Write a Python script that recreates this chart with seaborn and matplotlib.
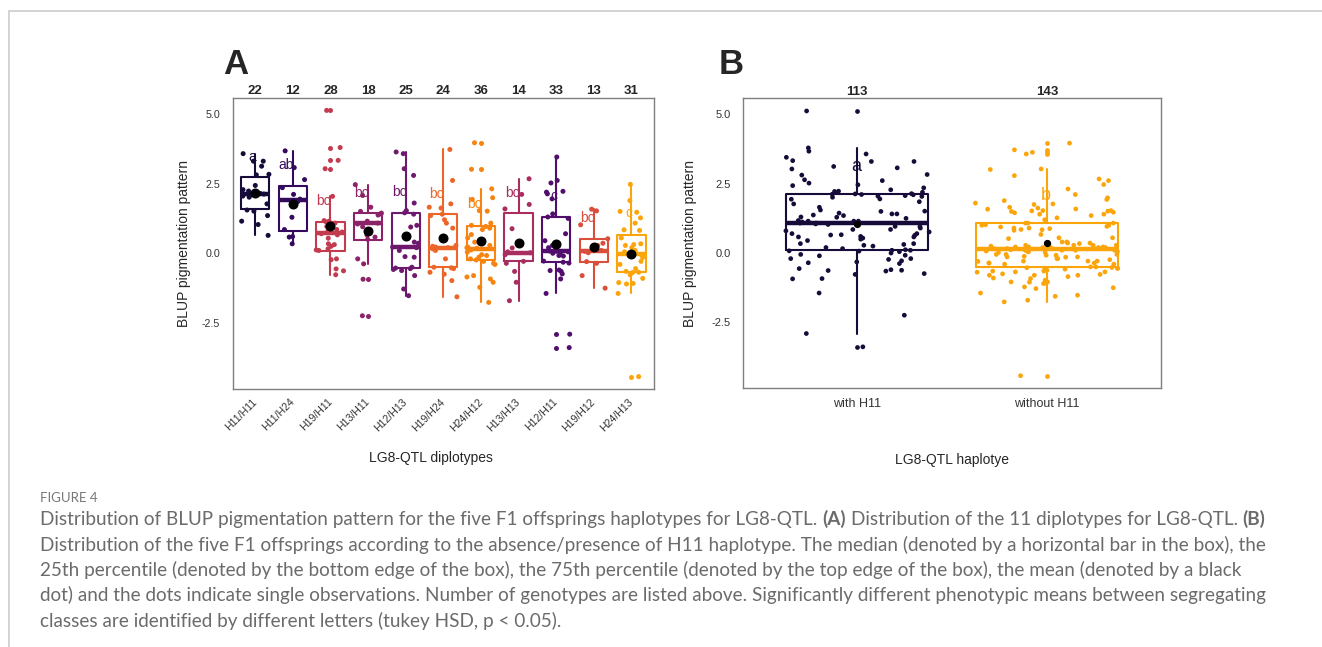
import matplotlib
matplotlib.use("Agg")
import matplotlib.pyplot as plt
from matplotlib.lines import Line2D
import numpy as np
import pandas as pd
import seaborn as sns

# BLUP pigmentation values per LG8-QTL diplotype
h11_h11 = [3.57, 3.30, 3.30, 3.12, 2.83, 2.81, 2.43, 2.28, 2.23, 2.19, 2.14,
           2.12, 2.10, 2.05, 2.01, 1.77, 1.55, 1.51, 1.35, 1.15, 1.03, 0.64]
h11_h24 = [3.67, 3.07, 2.64, 2.35, 2.11, 1.94, 1.85, 1.29, 0.85, 0.60, 0.58, 0.34]
h19_h11 = [5.12, 3.79, 3.33, 3.03, 2.04, 1.17, 1.15, 1.12, 1.08, 0.96, 0.90,
           0.85, 0.80, 0.76, 0.70, 0.66, 0.54, 0.34, 0.31, 0.25, 0.16, 0.12,
           0.10, -0.20, -0.23, -0.56, -0.63, -0.77]
h13_h11 = [2.46, 2.07, 1.65, 1.50, 1.44, 1.41, 1.37, 1.15, 1.08, 1.05, 0.95,
           0.65, 0.58, 0.50, -0.20, -0.38, -0.93, -2.24]
h12_h13 = [3.63, 3.57, 3.03, 2.79, 1.80, 1.53, 1.45, 1.40, 1.00, 0.94, 0.40,
           0.36, 0.22, 0.20, 0.10, -0.12, -0.14, -0.50, -0.53, -0.55, -0.58,
           -0.62, -0.80, -1.28, -1.52]
h19_h24 = [3.72, 2.61, 1.77, 1.65, 1.62, 1.40, 1.35, 1.20, 1.08, 0.90, 0.28,
           0.25, 0.22, 0.20, 0.16, 0.10, -0.20, -0.50, -0.52, -0.55, -0.68,
           -0.75, -0.98, -1.56]
h24_h12 = [3.96, 3.01, 2.31, 1.99, 1.93, 1.53, 1.51, 1.08, 1.00, 0.96, 0.90,
           0.85, 0.67, 0.55, 0.40, 0.28, 0.22, 0.20, 0.18, 0.15, 0.12, 0.04,
           -0.05, -0.08, -0.14, -0.20, -0.24, -0.29, -0.36, -0.40, -0.80,
           -0.85, -0.92, -1.04, -1.22, -1.76]
h13_h13 = [2.67, 2.11, 1.75, 1.59, 0.88, 0.19, 0.05, 0.02, -0.05, -0.29, -0.36,
           -0.65, -1.04, -1.70]
h12_h11 = [3.45, 2.61, 2.52, 2.22, 2.19, 2.13, 1.95, 1.41, 1.30, 1.25, 0.70,
           0.45, 0.28, 0.20, 0.10, 0.08, 0.07, 0.05, 0.00, -0.05, -0.08, -0.10,
           -0.28, -0.32, -0.35, -0.60, -0.62, -0.65, -0.74, -0.92, -1.44,
           -2.90, -3.38]
h19_h12 = [1.58, 1.52, 1.02, 0.52, 0.36, 0.28, 0.10, 0.07, 0.02, -0.30, -0.36,
           -0.80, -1.25]
h24_h13 = [2.47, 1.89, 1.50, 1.47, 1.27, 1.08, 0.84, 0.82, 0.55, 0.34, 0.31,
           0.28, 0.20, 0.10, 0.05, -0.05, -0.08, -0.15, -0.29, -0.40, -0.55,
           -0.65, -0.68, -0.69, -0.77, -0.90, -1.05, -1.08, -1.10, -1.44, -4.42]

diplotypes = ["H11/H11", "H11/H24", "H19/H11", "H13/H11", "H12/H13", "H19/H24",
              "H24/H12", "H13/H13", "H12/H11", "H19/H12", "H24/H13"]
values = [h11_h11, h11_h24, h19_h11, h13_h11, h12_h13, h19_h24,
          h24_h12, h13_h13, h12_h11, h19_h12, h24_h13]

# box statistics, panel A
q1_a = [1.58, 0.80, 0.09, 0.49, -0.52, -0.51, -0.23, -0.29, -0.33, -0.33, -0.66]
med_a = [2.14, 1.90, 0.72, 1.08, 0.22, 0.20, 0.17, 0.02, 0.07, 0.07, -0.03]
q3_a = [2.72, 2.42, 1.13, 1.44, 1.45, 1.40, 0.98, 1.44, 1.29, 0.52, 0.67]
lo_a = [0.64, 0.34, -0.77, -0.38, -1.52, -1.56, -1.76, -1.70, -1.44, -1.25, -1.44]
hi_a = [3.57, 3.67, 2.04, 2.46, 3.63, 3.72, 2.31, 2.67, 3.45, 1.58, 2.47]
letters_a = ["a", "ab", "bc", "bc", "bc", "bc", "bc", "bc", "c", "bc", "c"]
letter_y_a = [3.45, 3.15, 1.87, 2.17, 2.19, 2.13, 1.75, 2.17, 2.05, 1.26, 1.44]

# panel B
haplotypes = ["with H11", "without H11"]
q1_b = [0.10, -0.51]
med_b = [1.07, 0.13]
q3_b = [2.11, 1.07]
lo_b = [-2.90, -1.76]
hi_b = [3.79, 3.03]
letters_b = ["a", "b"]
letter_y_b = [3.13, 2.07]

df = pd.DataFrame({
    "diplotype": np.repeat(diplotypes, [len(v) for v in values]),
    "blup": np.concatenate(values),
})
df["haplotype"] = np.where(df["diplotype"].str.contains("H11"), "with H11", "without H11")

# inferno palette, assigned in alphabetical level order (as ggplot does)
inferno = plt.get_cmap("inferno")
alpha_levels = sorted(diplotypes)
pal_a = {d: inferno(v) for d, v in zip(alpha_levels, np.linspace(0.1, 0.8, len(alpha_levels)))}
pal_b = {"with H11": inferno(0.1), "without H11": inferno(0.8)}

sns.set_theme(style="white")
plt.rcParams["font.family"] = ["Liberation Sans", "DejaVu Sans"]
plt.rcParams["axes.unicode_minus"] = False
np.random.seed(7)

fig = plt.figure(figsize=(13.22, 6.47), dpi=100)
ax_a = fig.add_axes([0.1760, 0.3983, 0.3187, 0.4507])
ax_b = fig.add_axes([0.5623, 0.3998, 0.3157, 0.4482])


def draw_panel(ax, cat, order, pal, q1, med, q3, lo, hi, letters, letter_y,
               pt_size, mean_size, letter_size):
    sns.stripplot(data=df, x=cat, y="blup", order=order, hue=cat, hue_order=order,
                  palette=pal, jitter=0.38, size=pt_size, linewidth=0,
                  legend=False, ax=ax, zorder=3)
    stats = []
    for i, c in enumerate(order):
        v = df.loc[df[cat] == c, "blup"].to_numpy()
        stats.append(dict(q1=q1[i], med=med[i], q3=q3[i], whislo=lo[i], whishi=hi[i],
                          fliers=v[(v < lo[i]) | (v > hi[i])]))
    bp = ax.bxp(stats, positions=list(range(len(order))), widths=0.75,
                showcaps=False, manage_ticks=False,
                boxprops=dict(linewidth=1.5),
                whiskerprops=dict(linewidth=1.5),
                medianprops=dict(linewidth=3.2, solid_capstyle="butt"),
                flierprops=dict(marker="o", markersize=pt_size,
                                markeredgewidth=0, linestyle="none"))
    for i, c in enumerate(order):
        col = pal[c]
        bp["boxes"][i].set_color(col)
        bp["medians"][i].set_color(col)
        for w in bp["whiskers"][2 * i:2 * i + 2]:
            w.set_color(col)
        bp["fliers"][i].set_markerfacecolor(col)
        bp["fliers"][i].set_markeredgecolor(col)

    means = df.groupby(cat)["blup"].mean().reindex(order)
    ax.plot(list(range(len(order))), means.to_numpy(), "o", color="black",
            markersize=mean_size, linestyle="none", zorder=5)

    counts = df[cat].value_counts().reindex(order)
    for i, c in enumerate(order):
        ax.text(i, 1.012, str(counts[c]), transform=ax.get_xaxis_transform(),
                ha="center", va="baseline", fontweight="bold", fontsize=9.5)
        ax.text(i + 0.02, letter_y[i], letters[i], ha="right", va="center",
                color=pal[c], fontsize=letter_size, zorder=6)

    ax.set_xlim(-0.6, len(order) - 0.4)
    ax.set_ylim(-4.875, 5.575)
    ax.set_yticks([-2.5, 0, 2.5, 5.0])
    ax.set_yticklabels(["-2.5", "0.0", "2.5", "5.0"])
    for s in ["top", "right", "left", "bottom"]:
        ax.spines[s].set_visible(True)
        ax.spines[s].set_color("#7f7f7f")
        ax.spines[s].set_linewidth(1.0)
    ax.tick_params(length=2.75, width=0.8, color="#666666", labelcolor="#333333")
    ax.tick_params(axis="y", pad=6.3)
    ax.set_ylabel("BLUP pigmentation pattern", fontsize=10)


draw_panel(ax_a, "diplotype", diplotypes, pal_a, q1_a, med_a, q3_a, lo_a, hi_a,
           letters_a, letter_y_a, pt_size=3.6, mean_size=6.2, letter_size=10)
draw_panel(ax_b, "haplotype", haplotypes, pal_b, q1_b, med_b, q3_b, lo_b, hi_b,
           letters_b, letter_y_b, pt_size=3.4, mean_size=4.2, letter_size=13)

ax_a.set_xticks(range(len(diplotypes)), diplotypes, rotation=45, ha="right",
                va="center", rotation_mode="anchor", fontsize=7.6)
ax_a.tick_params(axis="x", pad=5)
ax_a.tick_params(axis="y", labelsize=7.7)
ax_a.set_xlabel("LG8-QTL diplotypes", fontsize=10)
ax_a.xaxis.set_label_coords(0.47, -0.212)
ax_a.yaxis.set_label_coords(-0.099, 0.5)

ax_b.set_xticks(range(len(haplotypes)), haplotypes, fontsize=9)
ax_b.tick_params(axis="x", pad=4)
ax_b.tick_params(axis="y", labelsize=8)
ax_b.set_xlabel("LG8-QTL haplotye", fontsize=10)
ax_b.xaxis.set_label_coords(0.5, -0.223)
ax_b.yaxis.set_label_coords(-0.11, 0.5)

W, H = 1322, 647
fig.text(223 / W, 1 - 74.5 / H, "A", fontsize=25, fontweight="bold", va="baseline")
fig.text(719 / W, 1 - 74.5 / H, "B", fontsize=25, fontweight="bold", va="baseline")

# page frame
fig.add_artist(Line2D([9 / W, 9 / W], [0, 1 - 11 / H], color="#cccccc", lw=1.2,
                      transform=fig.transFigure))
fig.add_artist(Line2D([9 / W, 1], [1 - 11 / H, 1 - 11 / H], color="#cccccc", lw=1.2,
                      transform=fig.transFigure))

# caption
cap_font = "Lato"
cap_size = 13.6
cap_color = "#6b6b6b"
caption_lines = [
    [("Distribution of BLUP pigmentation pattern for the five F1 offsprings haplotypes for LG8-QTL.", "normal"),
     ("(A)", "bold"),
     ("Distribution of the 11 diplotypes for LG8-QTL.", "normal"),
     ("(B)", "bold")],
    [("Distribution of the five F1 offsprings according to the absence/presence of H11 haplotype. "
      "The median (denoted by a horizontal bar in the box), the", "normal")],
    [("25th percentile (denoted by the bottom edge of the box), the 75th percentile "
      "(denoted by the top edge of the box), the mean (denoted by a black", "normal")],
    [("dot) and the dots indicate single observations. Number of genotypes are listed above. "
      "Significantly different phenotypic means between segregating", "normal")],
    [("classes are identified by different letters (tukey HSD, p < 0.05).", "normal")],
]

fig.text(40 / W, 1 - 502 / H, "FIGURE 4", fontsize=9.5, color="#777777",
         family=cap_font, va="baseline")

renderer = fig.canvas.get_renderer()


def text_width(s, weight):
    t = fig.text(0, 0, s, fontsize=cap_size, family=cap_font, fontweight=weight)
    w = t.get_window_extent(renderer).width
    t.remove()
    return w


space_w = text_width("a a", "normal") - text_width("aa", "normal")
for k, segments in enumerate(caption_lines):
    x = 40.0
    y = 1 - (525 + 25.5 * k) / H
    for s, weight in segments:
        fig.text(x / W, y, s, fontsize=cap_size, family=cap_font, fontweight=weight,
                 color=cap_color, va="baseline")
        x += text_width(s, weight) + space_w

fig.savefig("out.png", dpi=100)
